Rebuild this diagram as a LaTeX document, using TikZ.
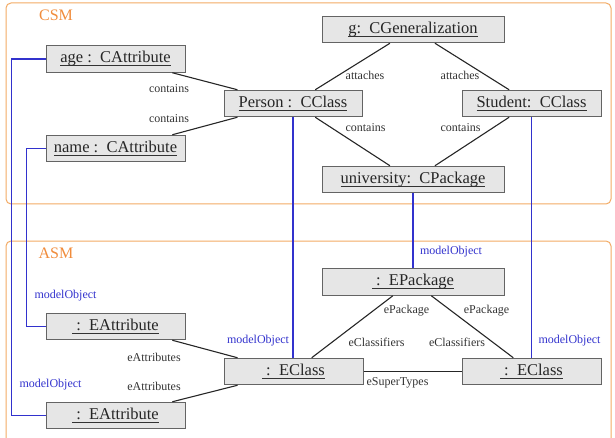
\documentclass[tikz,border=0pt]{standalone}
\usepackage{fontspec}
\setmainfont{Liberation Serif}
\usetikzlibrary{calc}
\definecolor{frameor}{RGB}{242,170,100}
\definecolor{labor}{RGB}{240,140,60}
\definecolor{mblue}{RGB}{50,50,205}
\definecolor{boxfill}{RGB}{230,230,230}
\definecolor{boxline}{RGB}{100,100,100}
\newcommand\objul[1]{\setbox0\hbox{#1}\rlap{\color{black!80}\rule[-3.2pt]{\wd0}{0.7pt}}\box0}
\tikzset{
  obj/.style={draw=boxline, fill=boxfill, line width=1pt, minimum height=26.5pt, inner sep=0pt,
    font=\fontsize{16.5}{18}\selectfont, text=black!85},
  conn/.style={draw=black!85, line width=1.1pt},
  mo/.style={draw=mblue, line width=1.8pt},
  lbl/.style={font=\fontsize{12}{14}\selectfont, text=black!80, inner sep=0pt},
  mlbl/.style={font=\fontsize{12}{14}\selectfont, text=mblue, inner sep=0pt},
  frame/.style={draw=frameor, line width=1pt, rounded corners=5pt},
  ftitle/.style={font=\fontsize{16}{18}\selectfont, text=labor, inner sep=0pt}
}
\begin{document}
\begin{tikzpicture}[x=1pt,y=-1pt]
\useasboundingbox (0,0) rectangle (615,438);
% frames
\begin{scope}
\clip (0,0) rectangle (615,438);
\draw[frame] (6,3) rectangle (611,204);
\draw[frame] (6,241) rectangle (611,460);
\end{scope}
\node[ftitle] (csm) at (56,15) {CSM};
\node[ftitle] (asm) at (56,253) {ASM};

% CSM nodes
\node[obj, minimum width=139pt] (age) at (115.5,59) {\objul{age :~~CAttribute}};
\node[obj, minimum width=139pt] (name) at (115.5,148.5) {\objul{name :~~CAttribute}};
\node[obj, minimum width=138pt] (person) at (293,103.5) {\objul{Person :~~CClass}};
\node[obj, minimum width=182pt] (gen) at (413,29.5) {\objul{g:~~CGeneralization}};
\node[obj, minimum width=139pt] (student) at (531.5,103.5) {\objul{Student:~~CClass}};
\node[obj, minimum width=182pt] (univ) at (413,179.5) {\objul{university:~~CPackage}};

% ASM nodes
\node[obj, minimum width=139pt] (ea1) at (115.5,326.5) {\objul{~:~~EAttribute}};
\node[obj, minimum width=139pt] (ea2) at (115.5,415.5) {\objul{~:~~EAttribute}};
\node[obj, minimum width=139pt] (ecl) at (293.5,371.5) {\objul{~:~~EClass}};
\node[obj, minimum width=182pt] (epack) at (413,282) {\objul{~:~~EPackage}};
\node[obj, minimum width=139pt] (ecr) at (531.5,371.5) {\objul{~:~~EClass}};

% CSM connectors
\draw[conn] ($(age.south west)!0.906!(age.south east)$) -- ($(person.north west)!0.1!(person.north east)$);
\draw[conn] ($(name.north west)!0.906!(name.north east)$) -- ($(person.south west)!0.1!(person.south east)$);
\draw[conn] ($(gen.south west)!0.374!(gen.south east)$) -- ($(person.north west)!0.66!(person.north east)$);
\draw[conn] ($(gen.south west)!0.62!(gen.south east)$) -- ($(student.north west)!0.34!(student.north east)$);
\draw[conn] ($(univ.north west)!0.374!(univ.north east)$) -- ($(person.south west)!0.66!(person.south east)$);
\draw[conn] ($(univ.north west)!0.62!(univ.north east)$) -- ($(student.south west)!0.34!(student.south east)$);

% ASM connectors
\draw[conn] ($(ea1.south west)!0.906!(ea1.south east)$) -- ($(ecl.north west)!0.1!(ecl.north east)$);
\draw[conn] ($(ea2.north west)!0.906!(ea2.north east)$) -- ($(ecl.south west)!0.1!(ecl.south east)$);
\draw[conn] ($(epack.south west)!0.39!(epack.south east)$) -- ($(ecl.north west)!0.63!(ecl.north east)$);
\draw[conn] ($(epack.south west)!0.6!(epack.south east)$) -- ($(ecr.north west)!0.37!(ecr.north east)$);
\draw[conn] (ecl.east) -- (ecr.west);

% modelObject connectors
\draw[mo] (age.west) -- ++(-34,0) |- (ea2.west);
\draw[mo] (name.west) -- ++(-19,0) |- (ea1.west);
\draw[mo] (person.south) -- (person.south |- ecl.north);
\draw[mo] (univ.south) -- (univ.south |- epack.north);
\draw[mo] (student.south) -- (student.south |- ecr.north);

% labels
\node[lbl] (l1) at (169,89) {contains};
\node[lbl] (l2) at (169,119) {contains};
\node[lbl] (l3) at (365,75) {attaches};
\node[lbl] (l4) at (460,75) {attaches};
\node[lbl] (l5) at (365.5,128) {contains};
\node[lbl] (l6) at (460.5,128) {contains};
\node[lbl] (l7) at (154,357) {eAttributes};
\node[lbl] (l8) at (154,386) {eAttributes};
\node[lbl] (l9) at (406.5,311) {ePackage};
\node[lbl] (l10) at (486.5,311) {ePackage};
\node[lbl] (l11) at (376.5,342) {eClassifiers};
\node[lbl] (l12) at (457,342) {eClassifiers};
\node[lbl] (l13) at (397.5,383) {eSuperTypes};
\node[mlbl] (m1) at (451,252) {modelObject};
\node[mlbl] (m2) at (65.5,296) {modelObject};
\node[mlbl] (m3) at (50.5,385) {modelObject};
\node[mlbl] (m4) at (258,341) {modelObject};
\node[mlbl] (m5) at (569.5,341) {modelObject};
\end{tikzpicture}
\end{document}
